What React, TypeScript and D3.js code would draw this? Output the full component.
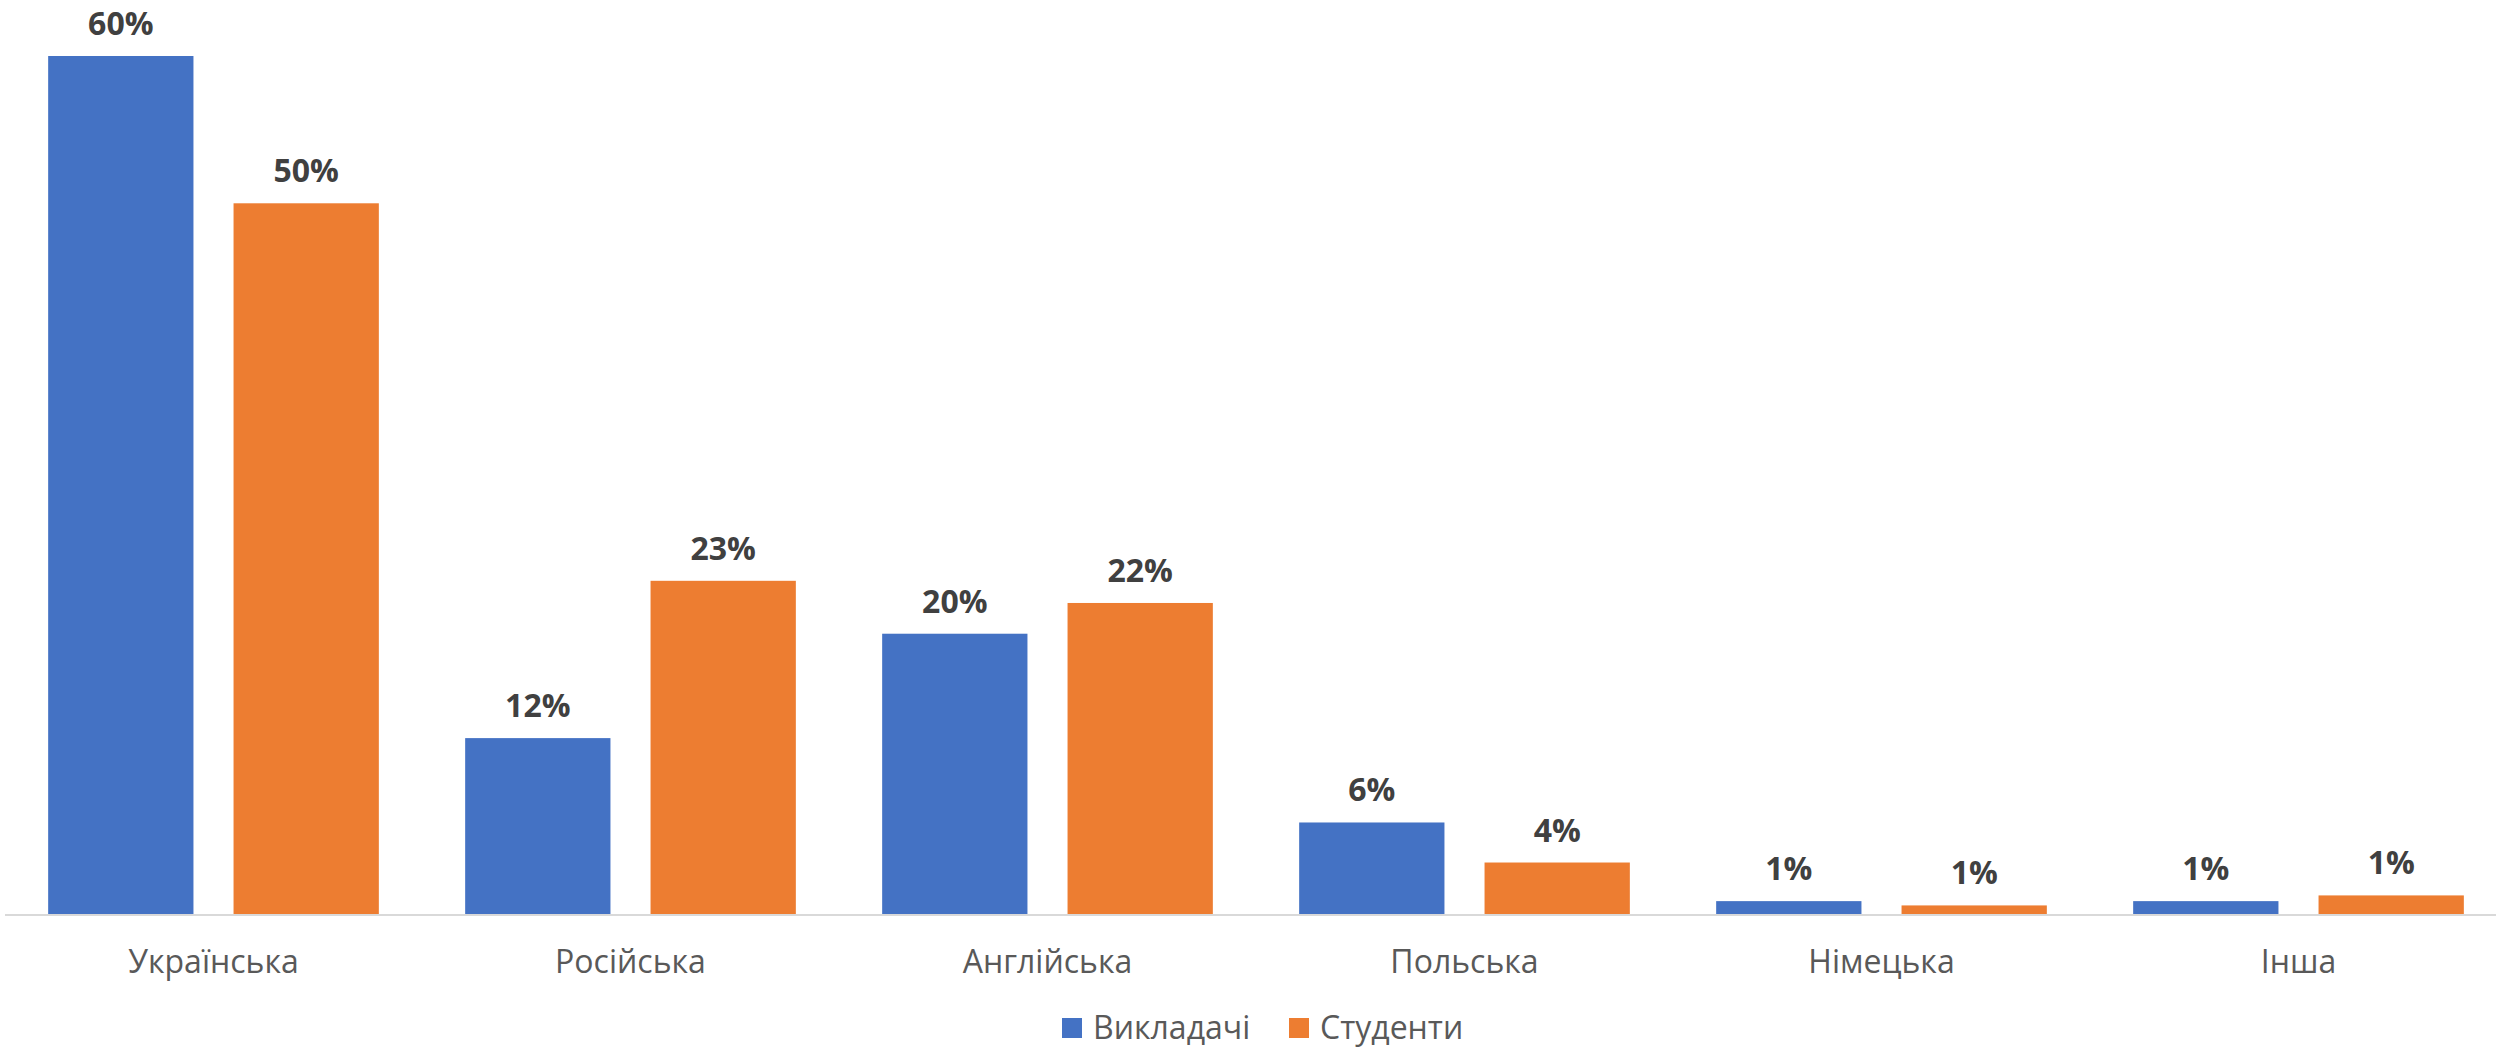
import React from "react";
import * as d3 from "d3";

const categories = ["Українська", "Російська", "Англійська", "Польська", "Німецька", "Інша"];
const seriesNames = ["Викладачі", "Студенти"];
const teachers = [0.6, 0.123, 0.196, 0.064, 0.009, 0.009];
const students = [0.497, 0.233, 0.2175, 0.036, 0.006, 0.013];
const colors = ["#4472C4", "#ED7D31"];

const W = 2501;
const H = 1049;
const FONT = "'Open Sans', 'Noto Sans', sans-serif";

export default function App() {
  const baseline = 914;
  const x0 = d3.scaleBand<string>().domain(categories).range([5, 2507]).paddingInner(0.207).paddingOuter(0.1035);
  const x1 = d3.scaleBand<string>().domain(seriesNames).range([0, x0.bandwidth()]).paddingInner(40 / 330 * 2 / (1 + 40 / 330)).paddingOuter(0);
  const y = d3.scaleLinear().domain([0, 0.6]).range([baseline, 56]);
  const fmt = d3.format(".0%");
  const series = [teachers, students];

  return (
    <svg width={W} height={H} style={{ position: "absolute", left: 0, top: 0, background: "#fff" }} fontFamily={FONT}>
      <rect x={0} y={0} width={W} height={H} fill="#fff" />
      {categories.map((c, i) => (
        <g key={c} transform={`translate(${x0(c)},0)`}>
          {series.map((vals, s) => {
            const bx = x1(seriesNames[s])!;
            const top = y(vals[i]);
            return (
              <g key={s}>
                <rect x={bx} y={top} width={x1.bandwidth()} height={baseline - top} fill={colors[s]} />
                <text
                  x={bx + x1.bandwidth() / 2}
                  y={top - 21}
                  textAnchor="middle"
                  fontSize={32}
                  fontWeight="bold"
                  fill="#404040"
                >
                  {fmt(vals[i])}
                </text>
              </g>
            );
          })}
          <text x={x0.bandwidth() / 2} y={baseline + 59} textAnchor="middle" fontSize={32} fill="#595959">
            {c}
          </text>
        </g>
      ))}
      <line x1={5} x2={2496} y1={baseline + 1} y2={baseline + 1} stroke="#d9d9d9" strokeWidth={2} />
      {seriesNames.map((n, s) => {
        const lx = [1062, 1289][s];
        return (
          <g key={n}>
            <rect x={lx} y={1018} width={20} height={20} fill={colors[s]} />
            <text x={lx + 31} y={1039} fontSize={32} fill="#595959">
              {n}
            </text>
          </g>
        );
      })}
    </svg>
  );
}
